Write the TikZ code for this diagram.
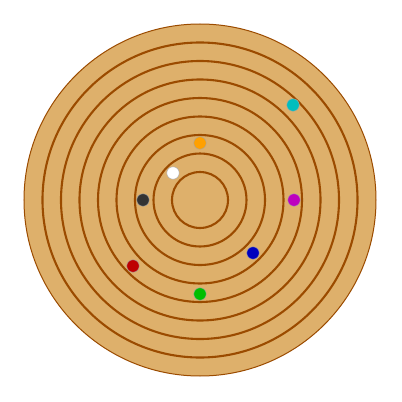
\documentclass[tikz,border=0pt]{standalone}
\begin{document}
\begin{tikzpicture}[x=1pt,y=1pt,
  ring/.style={draw=ringc, line width=2.1pt},
  ball/.style={circle, inner sep=0pt, minimum size=12.5pt, draw=black!35, line width=0.4pt}]
\definecolor{woodc}{RGB}{222,176,107}
\definecolor{ringc}{RGB}{155,75,0}
\useasboundingbox (-200,-202) rectangle (202,200);
\fill[white] (-200,-202) rectangle (202,200);
\filldraw[fill=woodc, draw=ringc, line width=1pt] (0,0) circle (176);
\foreach \r in {28,46.5,65,83.5,102,120.5,139,157.5}
  \draw[ring] (0,0) circle (\r);
\node[ball, fill={rgb,255:red,0;green,190;blue,190}] (cyan) at (93,95) {};
\node[ball, fill={rgb,255:red,255;green,160;blue,0}] (orange) at (0,57) {};
\node[ball, fill=white] (white) at (-27,27) {};
\node[ball, fill={rgb,255:red,51;green,51;blue,51}] (dark) at (-57,0) {};
\node[ball, fill={rgb,255:red,190;green,0;blue,190}] (magenta) at (94,0) {};
\node[ball, fill={rgb,255:red,0;green,0;blue,190}] (blue) at (53,-53) {};
\node[ball, fill={rgb,255:red,190;green,0;blue,0}] (red) at (-67,-66) {};
\node[ball, fill={rgb,255:red,0;green,190;blue,0}] (green) at (0,-94) {};
\end{tikzpicture}
\end{document}
